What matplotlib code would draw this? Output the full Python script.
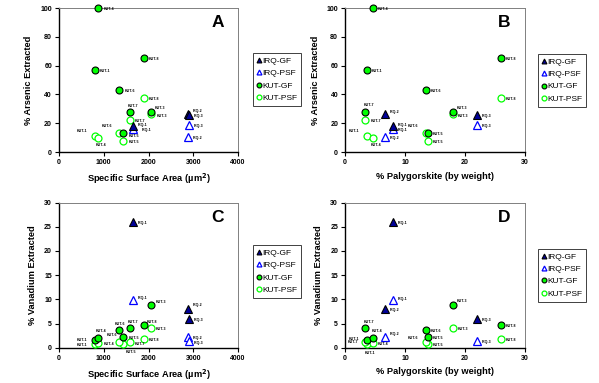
import matplotlib
matplotlib.use('Agg')
import matplotlib.pyplot as plt
from matplotlib.lines import Line2D

plt.rcParams['font.family'] = ['Liberation Sans', 'DejaVu Sans']

# ── Datos ────────────────────────────────────────────────────────────────────
kut_names  = ['KUT-1', 'KUT-3', 'KUT-4', 'KUT-5', 'KUT-6', 'KUT-7', 'KUT-8']
kut_ssa    = [800, 2050, 880, 1440, 1350, 1590, 1900]
kut_paly   = [3.6, 18.0, 4.7, 13.8, 13.5, 3.4, 26.0]
kut_as_gf  = [57, 27.5, 100, 13, 43, 28, 65]
kut_as_psf = [11, 26.5, 10, 8, 13, 22.5, 37.5]
kut_v_gf   = [1.7, 8.8, 2.1, 2.3, 3.7, 4.0, 4.7]
kut_v_psf  = [0.7, 4.0, 0.9, 0.8, 1.1, 1.2, 1.9]

irq_names  = ['IRQ-1', 'IRQ-2', 'IRQ-3']
irq_ssa    = [1650, 2870, 2900]
irq_paly   = [8.0, 6.7, 22.0]
irq_as_gf  = [18, 26.5, 25.5]
irq_as_psf = [16, 10.5, 18.5]
irq_v_gf   = [26, 8, 6]
irq_v_psf  = [9.8, 2.2, 1.3]

series_names = ['IRQ-GF', 'IRQ-PSF', 'KUT-GF', 'KUT-PSF']

# ── Estilos ──────────────────────────────────────────────────────────────────
LIME = '#00FF00'
NAVY = '#000099'
BLUE = '#0000FF'
styles = {
    'IRQ-GF':  dict(marker='^', ms=5.5, mfc=NAVY,    mec='black', mew=0.8),
    'IRQ-PSF': dict(marker='^', ms=5.5, mfc='white', mec=BLUE,    mew=0.9),
    'KUT-GF':  dict(marker='o', ms=5.0, mfc=LIME,    mec='black', mew=0.8),
    'KUT-PSF': dict(marker='o', ms=5.0, mfc='white', mec=LIME,    mew=0.9),
}

# desplazamiento de etiquetas (pixeles); por defecto a la derecha
DEF_OFF = (5, -1)
offsets = {
    'A': {('KUT-GF', 'KUT-7'): (-2, 6), ('KUT-GF', 'KUT-3'): (4, 4),
          ('KUT-PSF', 'KUT-3'): (6, -2), ('IRQ-GF', 'IRQ-1'): (5, 1),
          ('IRQ-PSF', 'IRQ-1'): (9, -1), ('KUT-PSF', 'KUT-6'): (-18, 7),
          ('KUT-GF', 'KUT-5'): (5, -3), ('KUT-PSF', 'KUT-1'): (-18, 5),
          ('KUT-PSF', 'KUT-4'): (-3, -7), ('IRQ-GF', 'IRQ-2'): (5, 3)},
    'B': {('KUT-GF', 'KUT-7'): (-2, 7), ('IRQ-GF', 'IRQ-2'): (5, 2),
          ('IRQ-GF', 'IRQ-1'): (5, 1), ('KUT-PSF', 'KUT-6'): (-18, 7),
          ('KUT-PSF', 'KUT-1'): (-18, 5), ('KUT-PSF', 'KUT-4'): (-2, -7),
          ('KUT-GF', 'KUT-3'): (4, 4), ('KUT-PSF', 'KUT-3'): (5, -2)},
    'C': {('IRQ-PSF', 'IRQ-1'): (5, 2), ('KUT-GF', 'KUT-3'): (5, 3),
          ('IRQ-GF', 'IRQ-2'): (5, 4), ('KUT-GF', 'KUT-6'): (-5, 6),
          ('KUT-GF', 'KUT-7'): (-2, 6), ('KUT-GF', 'KUT-8'): (3, 3),
          ('KUT-GF', 'KUT-4'): (-3, 7), ('KUT-GF', 'KUT-1'): (-18, 0),
          ('KUT-PSF', 'KUT-6'): (-13, 7), ('KUT-PSF', 'KUT-1'): (-18, -1),
          ('KUT-PSF', 'KUT-5'): (2, -8), ('KUT-PSF', 'KUT-7'): (5, -2),
          ('IRQ-PSF', 'IRQ-3'): (5, -2)},
    'D': {('IRQ-PSF', 'IRQ-1'): (5, 1), ('KUT-GF', 'KUT-3'): (4, 4),
          ('KUT-GF', 'KUT-7'): (-2, 6), ('KUT-GF', 'KUT-4'): (-1, 7),
          ('KUT-GF', 'KUT-1'): (-18, 1), ('IRQ-PSF', 'IRQ-2'): (5, 3),
          ('KUT-PSF', 'KUT-6'): (-18, 4), ('KUT-PSF', 'KUT-7'): (-18, 0),
          ('KUT-PSF', 'KUT-1'): (-2, -9)},
}

panels = [
    ('A', [0.0985, 0.603, 0.299, 0.376], irq_ssa, kut_ssa,
     irq_as_gf, irq_as_psf, kut_as_gf, kut_as_psf,
     (0, 4000), 1000, (0, 100), 20,
     'Specific Surface Area (µm$^{\\mathbf{2}}$)', '% Arsenic Extracted', (0.422, 0.861)),
    ('B', [0.576, 0.603, 0.3005, 0.376], irq_paly, kut_paly,
     irq_as_gf, irq_as_psf, kut_as_gf, kut_as_psf,
     (0, 30), 10, (0, 100), 20,
     '% Palygorskite (by weight)', '% Arsenic Extracted', (0.898, 0.859)),
    ('C', [0.0985, 0.092, 0.299, 0.379], irq_ssa, kut_ssa,
     irq_v_gf, irq_v_psf, kut_v_gf, kut_v_psf,
     (0, 4000), 1000, (0, 30), 5,
     'Specific Surface Area (µm$^{\\mathbf{2}}$)', '% Vanadium Extracted', (0.422, 0.360)),
    ('D', [0.576, 0.092, 0.3005, 0.379], irq_paly, kut_paly,
     irq_v_gf, irq_v_psf, kut_v_gf, kut_v_psf,
     (0, 30), 10, (0, 30), 5,
     '% Palygorskite (by weight)', '% Vanadium Extracted', (0.898, 0.350)),
]

fig = plt.figure(figsize=(5.99, 3.83), dpi=100, facecolor='white')

for (tag, rect, x_irq, x_kut, y_irq_gf, y_irq_psf, y_kut_gf, y_kut_psf,
     xlim, xstep, ylim, ystep, xlabel, ylabel, leg_pos) in panels:
    ax = fig.add_axes(rect)
    data = {
        'KUT-PSF': (x_kut, y_kut_psf, kut_names),
        'KUT-GF':  (x_kut, y_kut_gf,  kut_names),
        'IRQ-PSF': (x_irq, y_irq_psf, irq_names),
        'IRQ-GF':  (x_irq, y_irq_gf,  irq_names),
    }
    for key in ['KUT-PSF', 'IRQ-PSF', 'KUT-GF', 'IRQ-GF']:
        xs, ys, names = data[key]
        ax.plot(xs, ys, ls='none', clip_on=False, zorder=3, **styles[key])
        for x, y, nm in zip(xs, ys, names):
            off = offsets[tag].get((key, nm), DEF_OFF)
            ax.annotate(nm, (x, y), xytext=off, textcoords='offset pixels',
                        fontsize=2.6, fontweight='bold', ha='left', va='center',
                        color='black', zorder=4)

    ax.set_xlim(*xlim)
    ax.set_ylim(*ylim)
    ax.set_xticks(range(xlim[0], xlim[1] + 1, xstep))
    ax.set_yticks(range(ylim[0], ylim[1] + 1, ystep))
    ax.tick_params(direction='out', length=3, width=0.8, labelsize=5, pad=2)
    for lb in ax.get_xticklabels() + ax.get_yticklabels():
        lb.set_fontweight('bold')
    for s in ['left', 'bottom']:
        ax.spines[s].set_linewidth(1.0)
        ax.spines[s].set_color('black')
    for s in ['top', 'right']:
        ax.spines[s].set_linewidth(0.7)
        ax.spines[s].set_color('#808080')
    ax.set_xlabel(xlabel, fontsize=6.7, fontweight='bold', labelpad=4)
    ax.set_ylabel(ylabel, fontsize=6.7, fontweight='bold', labelpad=5)
    ax.text(0.92, 0.90, tag, transform=ax.transAxes, fontsize=12.5,
            fontweight='bold', ha='right', va='center')

    handles = [Line2D([], [], ls='none', **dict(styles[k], ms=3.5)) for k in series_names]
    leg = ax.legend(handles, series_names, loc='upper left', bbox_to_anchor=leg_pos,
                    bbox_transform=fig.transFigure, fontsize=6, frameon=True,
                    fancybox=False, framealpha=1, edgecolor='#404040',
                    handlelength=0.5, handletextpad=0.15, labelspacing=0.55,
                    borderpad=0.45, borderaxespad=0)
    leg.get_frame().set_linewidth(0.7)

fig.savefig('out.png', dpi=100, facecolor='white')
